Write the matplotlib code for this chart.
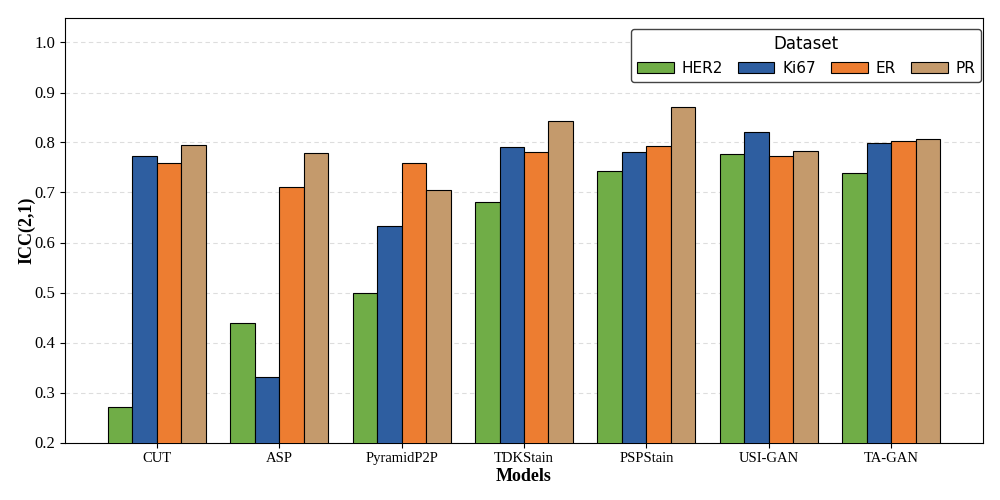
import matplotlib
matplotlib.use('Agg')
import matplotlib.pyplot as plt
import numpy as np

plt.rcParams['font.family'] = ['Liberation Serif', 'DejaVu Serif']

models = ['CUT', 'ASP', 'PyramidP2P', 'TDKStain', 'PSPStain', 'USI-GAN', 'TA-GAN']
her2 = [0.272, 0.440, 0.500, 0.682, 0.744, 0.778, 0.740]
ki67 = [0.774, 0.332, 0.634, 0.792, 0.782, 0.822, 0.800]
er = [0.760, 0.712, 0.760, 0.782, 0.794, 0.774, 0.804]
pr = [0.796, 0.780, 0.706, 0.844, 0.872, 0.784, 0.808]

series = [('HER2', her2, '#70AD47'), ('Ki67', ki67, '#2E5EA0'),
          ('ER', er, '#ED7D31'), ('PR', pr, '#C49A6C')]

fig, ax = plt.subplots(figsize=(10, 5), dpi=100)
x = np.arange(len(models))
w = 0.2
for i, (name, vals, col) in enumerate(series):
    ax.bar(x + (i - 1.5) * w, vals, w, label=name, color=col,
           edgecolor='black', linewidth=0.8, zorder=3)

ax.set_ylim(0.2, 1.05)
ax.set_xlim(-0.75, 6.75)
ax.set_yticks(np.arange(0.2, 1.01, 0.1))
ax.set_yticklabels([f'{v:.1f}' for v in np.arange(0.2, 1.01, 0.1)], fontsize=12)
ax.set_xticks(x)
ax.set_xticklabels(models, fontsize=10.5)
ax.set_ylabel('ICC(2,1)', fontsize=13, fontweight='bold', labelpad=-1)
ax.set_xlabel('Models', fontsize=13, fontweight='bold', labelpad=2)
ax.grid(axis='y', linestyle=(0, (4, 3)), color='#dddddd', linewidth=0.8, zorder=0)

leg = ax.legend(title='Dataset', ncol=4, loc='upper right',
                bbox_to_anchor=(0.998, 0.973), borderaxespad=0,
                prop={'family': 'DejaVu Sans', 'size': 11},
                handlelength=2.4, columnspacing=1.0, handletextpad=0.5,
                framealpha=1)
leg.get_title().set_family('DejaVu Sans')
leg.get_title().set_fontsize(12)
leg.get_frame().set_edgecolor('#444444')

plt.subplots_adjust(left=0.065, right=0.983, top=0.965, bottom=0.115)
plt.savefig('out.png')
plt.close()
